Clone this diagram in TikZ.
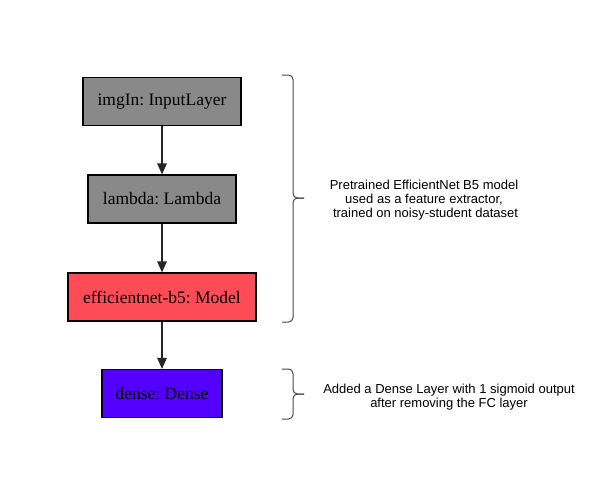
\documentclass[tikz,border=0pt]{standalone}
\usepackage{fontspec}
\setmainfont{Liberation Serif}
\newfontfamily\labelfont{Liberation Sans}
\usetikzlibrary{arrows.meta}
\definecolor{boxgray}{RGB}{137,137,137}
\definecolor{boxred}{RGB}{255,75,85}
\definecolor{boxblue}{RGB}{84,0,255}
\definecolor{bracegray}{RGB}{70,70,70}
\frenchspacing
\tikzset{
  layerbox/.style={draw=black, line width=1.2pt, minimum height=48pt, inner sep=0pt,
    font=\fontsize{17.5}{20}\selectfont, text=black},
  flowarrow/.style={draw=black!85, line width=1.2pt, -{Triangle[length=11pt,width=9.5pt]}},
  bracepath/.style={draw=bracegray, line width=1pt, rounded corners=4.5pt},
  notetext/.style={align=center, inner sep=0pt, font=\labelfont\fontsize{13}{14}\selectfont, text=black}
}
\begin{document}
\begin{tikzpicture}[x=1pt,y=-1pt]
\useasboundingbox (0,0) rectangle (596,498);
\node[layerbox, fill=boxgray, minimum width=158pt] (inp) at (162,101.5) {imgIn: InputLayer};
\node[layerbox, fill=boxgray, minimum width=148pt] (lam) at (162,199) {lambda: Lambda};
\node[layerbox, fill=boxred, minimum width=188pt] (eff) at (162,297) {efficientnet-b5: Model};
\node[layerbox, fill=boxblue, minimum width=120pt] (den) at (162,393.5) {dense: Dense};
\draw[flowarrow] (inp) -- (lam);
\draw[flowarrow] (lam) -- (eff);
\draw[flowarrow] (eff) -- (den);
% braces
\coordinate (b1tip) at (304,198);
\draw[bracepath] (282,75) -| (293,198) -- (b1tip);
\draw[bracepath] (b1tip) -| (293,322) -- (282,322);
\coordinate (b2tip) at (304,394);
\draw[bracepath] (282,369) -| (293,394) -- (b2tip);
\draw[bracepath] (b2tip) -| (293,419) -- (282,419);
\node[notetext] (note1) at (424,200) {Pretrained EfficientNet B5 model\\used as a feature extractor,\\\hspace*{3pt}trained on noisy-student dataset};
\node[notetext] (note2) at (449,397.5) {Added a Dense Layer with 1 sigmoid output\\after removing the FC layer};
\end{tikzpicture}
\end{document}
